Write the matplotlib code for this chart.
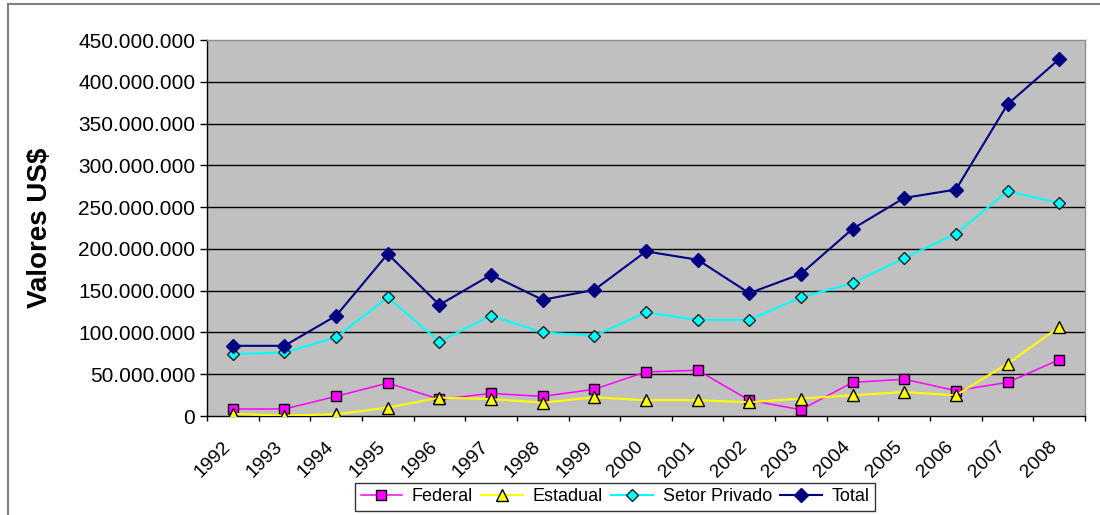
import matplotlib
matplotlib.use("Agg")
import matplotlib.pyplot as plt
from matplotlib.ticker import FuncFormatter, FixedLocator
from matplotlib.transforms import ScaledTranslation
from matplotlib.lines import Line2D

plt.rcParams['font.family'] = ['Liberation Sans', 'DejaVu Sans']

years = ['1992', '1993', '1994', '1995', '1996', '1997', '1998', '1999', '2000',
         '2001', '2002', '2003', '2004', '2005', '2006', '2007', '2008']
federal = [8.4, 8.4, 23.5, 39.5, 20, 27, 23.5, 32, 52.8, 54.7, 18.9, 7.5, 40.2, 44, 30.3, 40.2, 67.3]
estadual = [2.5, 0.5, 2, 10, 22, 20.3, 16, 22.4, 18.9, 18.9, 16.5, 20.9, 24.8, 28.7, 24.8, 62.6, 106.5]
privado = [74, 76, 94, 142, 89, 120, 100, 96, 124, 115, 115, 142, 159, 189, 218, 269, 255]
total = [84, 84, 120, 194, 133, 169, 139, 151, 197, 187, 147, 170, 224, 261, 271, 373, 427]

scale = 1e6
fig = plt.figure(figsize=(11, 5.15), dpi=100)
ax = fig.add_axes([207/1100, 1-416/515, (1085-207)/1100, (416-40)/515])
ax.set_facecolor('#C0C0C0')

x = list(range(len(years)))
ax.plot(x, [v*scale for v in federal], color='#FF00FF', lw=1.1, marker='s', ms=7.5,
        mfc='#FF00FF', mec='black', mew=1.0, label='Federal', zorder=3)
ax.plot(x, [v*scale for v in estadual], color='#FFFF00', lw=1.5, marker='^', ms=8.5,
        mfc='#FFFF00', mec='black', mew=1.0, label='Estadual', zorder=3)
ax.plot(x, [v*scale for v in privado], color='#00FFFF', lw=1.5, marker='D', ms=6.5,
        mfc='#00FFFF', mec='#202020', mew=1.0, label='Setor Privado', zorder=3)
ax.plot(x, [v*scale for v in total], color='#000080', lw=1.5, marker='D', ms=7.5,
        mfc='#000080', mec='#000080', mew=1.0, label='Total', zorder=3)

ax.set_xlim(-0.5, len(years) - 0.5)
ax.set_ylim(0, 450e6)
yt = [i*50e6 for i in range(10)]
ax.set_yticks(yt)
ax.yaxis.set_major_formatter(FuncFormatter(lambda v, p: '{:,.0f}'.format(v).replace(',', '.')))
for v in yt[1:-1]:
    ax.axhline(v, color='black', lw=1.0, zorder=1)

ax.xaxis.set_major_locator(FixedLocator([i - 0.5 for i in range(len(years) + 1)]))
ax.xaxis.set_minor_locator(FixedLocator(x))
ax.set_xticklabels([], minor=False)
ax.set_xticklabels(years, minor=True, rotation=45, ha='right', va='top',
                   rotation_mode='anchor', fontsize=14)
ax.tick_params(axis='x', which='major', length=3.5, width=1, color='black', direction='out')
ax.tick_params(axis='x', which='minor', length=0, pad=16)
ax.tick_params(axis='y', length=5, width=1, color='black', labelsize=15, pad=3.5)
for lab in ax.get_xticklabels(minor=True):
    lab.set_transform(lab.get_transform() + ScaledTranslation(-11/100, 0, fig.dpi_scale_trans))

for s in ['left', 'bottom']:
    ax.spines[s].set_color('black')
    ax.spines[s].set_linewidth(1.0)
for s in ['top', 'right']:
    ax.spines[s].set_color('#909090')
    ax.spines[s].set_linewidth(1.0)

fig.text(40/1100, 1-228/515, 'Valores US$', rotation=90, ha='center', va='center',
         fontsize=20, fontweight='bold')

leg = fig.legend(loc='upper center', bbox_to_anchor=(615/1100, 1-483/515), ncol=4,
                 fontsize=13, frameon=True, fancybox=False, edgecolor='black',
                 handlelength=2.3, handletextpad=0.55, columnspacing=0.45,
                 borderpad=0.3, borderaxespad=0)
leg.get_frame().set_linewidth(1.0)

fig.add_artist(Line2D([8/1100, 1.0], [1-4/515, 1-4/515], color='#808080', lw=1.5,
                      transform=fig.transFigure))
fig.add_artist(Line2D([8/1100, 8/1100], [0, 1-4/515], color='#808080', lw=1.5,
                      transform=fig.transFigure))

fig.savefig('out.png', dpi=100)
